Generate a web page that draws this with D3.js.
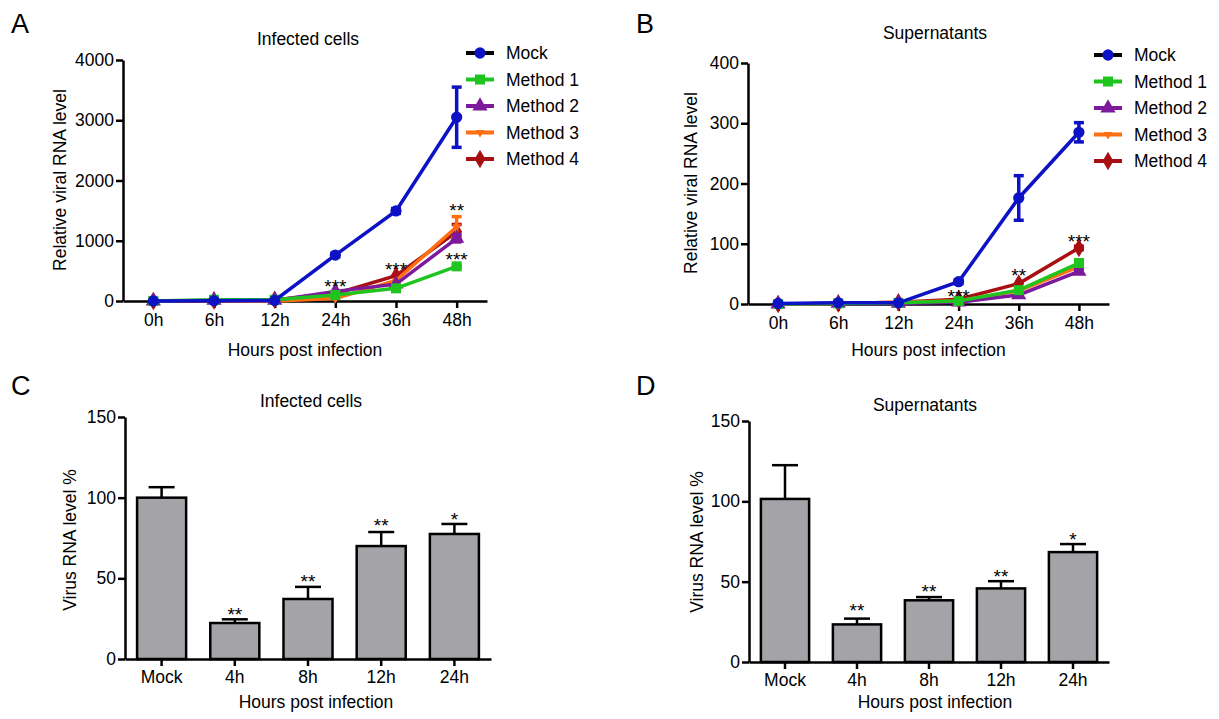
<!DOCTYPE html>
<meta charset="utf-8">
<html>
<head>
    <script src="https://d3js.org/d3.v7.min.js"></script>
    <style>
        body { margin: 0; background: #fff; }
        text { font-family: "Liberation Sans", Arial, sans-serif; }
    </style>
</head>
<body>
<script>

    // ---- line charts (A, B) ----
    var lineHours = ["0h", "6h", "12h", "24h", "36h", "48h"];
    var seriesNames = ["Mock", "Method 1", "Method 2", "Method 3", "Method 4"];
    var seriesColors = ["#0d12c4", "#1fc41f", "#7d1a9c", "#ff6f12", "#a80f12"];
    var seriesSymbols = [d3.symbolCircle, d3.symbolSquare, d3.symbolTriangle, "down", d3.symbolDiamond];

    // A - infected cells
    var cellsMock = [0, 5, 10, 763, 1495, 3050];
    var cellsMockErr = [0, 0, 0, 30, 40, 500];
    var cellsM1 = [0, 20, 20, 100, 210, 575];
    var cellsM2 = [0, 10, 10, 160, 280, 1040];
    var cellsM3 = [0, 5, 0, 40, 340, 1230];
    var cellsM4 = [0, 10, 20, 120, 420, 1150];
    var cellsMethodErr = [20, 20, 60, 170, 120];
    var cellsTicks = [0, 1000, 2000, 3000, 4000];
    var cellsStars = ["***", "***", "**", "***"];
    var cellsStarHours = ["24h", "36h", "48h", "48h"];
    var cellsStarValues = [300, 580, 1560, 747];

    // B - supernatants
    var supMock = [1, 2, 2, 37, 176, 285];
    var supMockErr = [0, 0, 0, 3, 37, 16];
    var supM1 = [0, 1, 2, 5, 23, 68];
    var supM2 = [0, 1, 1, 3, 15, 54];
    var supM3 = [0, 1, 3, 5, 22, 62];
    var supM4 = [0, 1, 3, 8, 34, 93];
    var supMethodErr = [3, 4, 3, 3, 3];
    var supTicks = [0, 100, 200, 300, 400];
    var supStars = ["***", "**", "***"];
    var supStarHours = ["24h", "36h", "48h"];
    var supStarValues = [18, 53, 110];

    // ---- bar charts (C, D) ----
    var barGroups = ["Mock", "4h", "8h", "12h", "24h"];
    var barTicks = [0, 50, 100, 150];
    var cellsBars = [100, 22.3, 37.2, 70, 77.5];
    var cellsBarErr = [6.5, 2.3, 7.5, 8.7, 6.2];
    var cellsBarStars = ["", "**", "**", "**", "*"];
    var cellsBarStarValues = [0, 29.8, 50.2, 84.9, 88.6];
    var supBars = [101.5, 23.4, 38.4, 45.8, 68.4];
    var supBarErr = [21, 3.6, 2, 4.5, 5];
    var supBarStars = ["", "**", "**", "**", "*"];
    var supBarStarValues = [0, 34.2, 46, 55.4, 78.4];

    var svg = d3.select("body").append("svg")
        .attr("width", 1219)
        .attr("height", 719);

    var downTriangle = {
        draw: function (ctx, size) {
            var s = Math.sqrt(size / (3 * Math.sqrt(3) / 4));
            var h = s * Math.sqrt(3) / 2;
            ctx.moveTo(0, h * 2 / 3);
            ctx.lineTo(s / 2, -h / 3);
            ctx.lineTo(-s / 2, -h / 3);
            ctx.closePath();
        }
    };

    function symbolPath(i, size) {
        var t = seriesSymbols[i] === "down" ? downTriangle : seriesSymbols[i];
        return d3.symbol().type(t).size(size)();
    }

    function styleAxis(g) {
        g.selectAll(".domain").attr("stroke", "#000").attr("stroke-width", 2.5);
        g.selectAll(".tick line").attr("stroke", "#000").attr("stroke-width", 2.5);
        g.selectAll(".tick text").attr("fill", "#000")
            .style("font-size", "17.5px")
            .style("font-family", "'Liberation Sans', Arial, sans-serif");
    }

    function panelText(x, y, txt, size, anchor) {
        return svg.append("text")
            .attr("x", x).attr("y", y)
            .attr("text-anchor", anchor || "middle")
            .style("font-size", size + "px")
            .text(txt);
    }

    function yLabel(x, y, txt) {
        svg.append("text")
            .attr("transform", "translate(" + x + "," + y + ") rotate(-90)")
            .attr("text-anchor", "middle")
            .style("font-size", "17.5px")
            .text(txt);
    }

    function drawLineChart(cfg) {
        var x = d3.scalePoint().domain(lineHours).range([cfg.x0, cfg.x1]).padding(0.5);
        var y = d3.scaleLinear().domain([0, cfg.max]).range([cfg.y0, cfg.y1]);

        svg.append("g")
            .attr("transform", "translate(0," + cfg.y0 + ")")
            .call(d3.axisBottom(x).tickSize(7).tickSizeOuter(0).tickPadding(6))
            .call(styleAxis);
        svg.append("g")
            .attr("transform", "translate(" + cfg.x0 + ",0)")
            .call(d3.axisLeft(y).tickValues(cfg.ticks).tickFormat(d3.format("d"))
                .tickSize(7).tickSizeOuter(0).tickPadding(2))
            .call(styleAxis);

        var line = d3.line()
            .x(function (d, i) { return x(lineHours[i]); })
            .y(function (d) { return y(d); });

        // draw methods first, mock on top
        var order = [4, 3, 2, 1, 0];
        order.forEach(function (s) {
            var vals = cfg.series[s];
            var col = seriesColors[s];
            var g = svg.append("g");
            // error bars
            vals.forEach(function (v, i) {
                var e = s === 0 ? cfg.mockErr[i] : (i === 5 ? cfg.methodErr[s] : 0);
                if (e <= 0) return;
                var cx = x(lineHours[i]);
                g.append("line").attr("x1", cx).attr("x2", cx)
                    .attr("y1", y(v - e)).attr("y2", y(v + e))
                    .attr("stroke", col).attr("stroke-width", 3.5);
                [v - e, v + e].forEach(function (c) {
                    g.append("line").attr("x1", cx - 5).attr("x2", cx + 5)
                        .attr("y1", y(c)).attr("y2", y(c))
                        .attr("stroke", col).attr("stroke-width", 3.5);
                });
            });
            g.append("path")
                .datum(vals)
                .attr("d", line)
                .attr("fill", "none")
                .attr("stroke", col)
                .attr("stroke-width", 3.5);
            g.selectAll("path.mk")
                .data(vals)
                .enter().append("path")
                .attr("class", "mk")
                .attr("transform", function (d, i) { return "translate(" + x(lineHours[i]) + "," + y(d) + ")"; })
                .attr("d", symbolPath(s, 100))
                .attr("fill", col);
        });

        // significance stars
        cfg.stars.forEach(function (t, i) {
            svg.append("text")
                .attr("x", x(cfg.starHours[i]))
                .attr("y", y(cfg.starValues[i]) + 10)
                .attr("text-anchor", "middle")
                .style("font-size", "19px")
                .text(t);
        });

        // legend
        seriesNames.forEach(function (n, i) {
            var ly = cfg.legY + i * 26.5;
            svg.append("line")
                .attr("x1", cfg.legX - 14).attr("x2", cfg.legX + 14)
                .attr("y1", ly).attr("y2", ly)
                .attr("stroke", i === 0 ? "#000" : seriesColors[i])
                .attr("stroke-width", 4);
            svg.append("path")
                .attr("transform", "translate(" + cfg.legX + "," + ly + ")")
                .attr("d", symbolPath(i, 100))
                .attr("fill", seriesColors[i]);
            svg.append("text")
                .attr("x", cfg.legX + 26).attr("y", ly + 6)
                .style("font-size", "17.5px")
                .text(n);
        });

        panelText(cfg.letterX, 33, cfg.letter, 27, "start");
        panelText(cfg.titleX, cfg.titleY, cfg.title, 17.5);
        yLabel(cfg.yLabX, cfg.yLabY, "Relative viral RNA level");
        panelText((cfg.x0 + cfg.x1) / 2, 356, "Hours post infection", 17.5);
    }

    function drawBarChart(cfg) {
        var x = d3.scaleBand().domain(barGroups).range([cfg.x0, cfg.x1])
            .paddingInner(0.33).paddingOuter(0.165);
        var y = d3.scaleLinear().domain([0, 150]).range([cfg.y0, cfg.y1]);

        var g = svg.append("g");
        // error bars (upper only)
        g.selectAll("line.err")
            .data(cfg.values)
            .enter().append("line")
            .attr("class", "err")
            .attr("x1", function (d, i) { return x(barGroups[i]) + x.bandwidth() / 2; })
            .attr("x2", function (d, i) { return x(barGroups[i]) + x.bandwidth() / 2; })
            .attr("y1", function (d) { return y(d); })
            .attr("y2", function (d, i) { return y(d + cfg.err[i]); })
            .attr("stroke", "#000").attr("stroke-width", 2.5);
        g.selectAll("line.cap")
            .data(cfg.values)
            .enter().append("line")
            .attr("class", "cap")
            .attr("x1", function (d, i) { return x(barGroups[i]) + x.bandwidth() / 2 - 13; })
            .attr("x2", function (d, i) { return x(barGroups[i]) + x.bandwidth() / 2 + 13; })
            .attr("y1", function (d, i) { return y(d + cfg.err[i]); })
            .attr("y2", function (d, i) { return y(d + cfg.err[i]); })
            .attr("stroke", "#000").attr("stroke-width", 2.5);
        g.selectAll("rect")
            .data(cfg.values)
            .enter().append("rect")
            .attr("x", function (d, i) { return x(barGroups[i]); })
            .attr("width", x.bandwidth())
            .attr("y", function (d) { return y(d); })
            .attr("height", function (d) { return cfg.y0 - y(d); })
            .attr("fill", "#a3a3a8")
            .attr("stroke", "#000")
            .attr("stroke-width", 2.5);

        svg.append("g")
            .attr("transform", "translate(0," + cfg.y0 + ")")
            .call(d3.axisBottom(x).tickSize(7).tickSizeOuter(0).tickPadding(5))
            .call(styleAxis);
        svg.append("g")
            .attr("transform", "translate(" + cfg.x0 + ",0)")
            .call(d3.axisLeft(y).tickValues(barTicks).tickFormat(d3.format("d"))
                .tickSize(7).tickSizeOuter(0).tickPadding(2))
            .call(styleAxis);

        cfg.stars.forEach(function (t, i) {
            if (!t) return;
            svg.append("text")
                .attr("x", x(barGroups[i]) + x.bandwidth() / 2)
                .attr("y", y(cfg.starValues[i]) + 10)
                .attr("text-anchor", "middle")
                .style("font-size", "19px")
                .text(t);
        });

        panelText(cfg.letterX, 395, cfg.letter, 27, "start");
        panelText(cfg.titleX, cfg.titleY, cfg.title, 17.5);
        yLabel(cfg.yLabX, cfg.yLabY, "Virus RNA level %");
        panelText(cfg.xLabX, 708, "Hours post infection", 17.5);
    }

    drawLineChart({
        letter: "A", letterX: 11, title: "Infected cells", titleX: 308, titleY: 45,
        x0: 123, x1: 487, y0: 301, y1: 60, max: 4000, ticks: cellsTicks,
        series: [cellsMock, cellsM1, cellsM2, cellsM3, cellsM4],
        mockErr: cellsMockErr, methodErr: cellsMethodErr,
        stars: cellsStars, starHours: cellsStarHours, starValues: cellsStarValues,
        legX: 480, legY: 53, yLabX: 66, yLabY: 180
    });

    drawLineChart({
        letter: "B", letterX: 636, title: "Supernatants", titleX: 935, titleY: 39,
        x0: 748, x1: 1109, y0: 304, y1: 63, max: 400, ticks: supTicks,
        series: [supMock, supM1, supM2, supM3, supM4],
        mockErr: supMockErr, methodErr: supMethodErr,
        stars: supStars, starHours: supStarHours, starValues: supStarValues,
        legX: 1108, legY: 55, yLabX: 697, yLabY: 183
    });

    drawBarChart({
        letter: "C", letterX: 11, title: "Infected cells", titleX: 311, titleY: 407,
        x0: 125, x1: 491, y0: 659, y1: 417,
        values: cellsBars, err: cellsBarErr,
        stars: cellsBarStars, starValues: cellsBarStarValues,
        yLabX: 76, yLabY: 540, xLabX: 316
    });

    drawBarChart({
        letter: "D", letterX: 636, title: "Supernatants", titleX: 925, titleY: 411,
        x0: 749, x1: 1109, y0: 662, y1: 421,
        values: supBars, err: supBarErr,
        stars: supBarStars, starValues: supBarStarValues,
        yLabX: 703, yLabY: 542, xLabX: 935
    });

</script>
</body>
</html>
